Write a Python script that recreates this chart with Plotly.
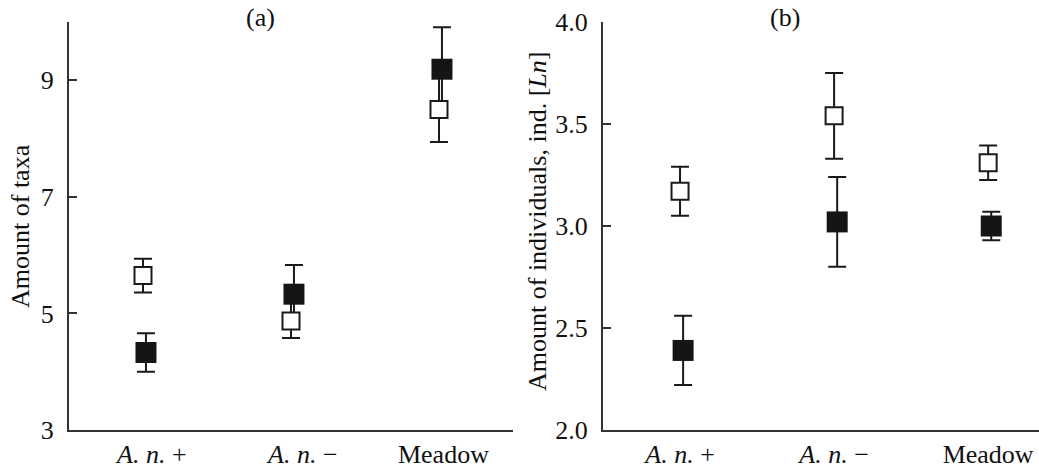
import plotly.graph_objects as go

# ---- data ----
categories = ["A. n. +", "A. n. −", "Meadow"]
tick_labels = ["<i>A. n.</i> +", "<i>A. n.</i> −", "Meadow"]

taxa_open = [5.65, 4.87, 8.50]
taxa_open_err = [0.29, 0.29, 0.56]
taxa_filled = [4.33, 5.33, 9.19]
taxa_filled_err = [0.33, 0.50, 0.72]

ind_open = [3.17, 3.54, 3.31]
ind_open_err = [0.12, 0.21, 0.085]
ind_filled = [2.39, 3.02, 3.00]
ind_filled_err = [0.17, 0.22, 0.07]

taxa_ticks = [3, 5, 7, 9]
ind_ticks = [2.0, 2.5, 3.0, 3.5, 4.0]

# ---- figure ----
W, H = 1039, 469
FONT = "Liberation Serif, Times New Roman, serif"
FS = 26
fig = go.Figure()

idx = list(range(len(categories)))
off = 0.02
x_open = [i for i in idx]
x_filled = [i + off for i in idx]
ERR_COLOR = "#1a1a1a"


def add_panel(xa, ya, yo, yo_err, yf, yf_err):
    # where the two markers' error bars run into each other, the facing
    # halves are drawn without caps (their ends are hidden under the markers)
    overlap = [abs(a - b) < (ea + eb) for a, b, ea, eb in zip(yo, yf, yo_err, yf_err)]
    series = ((x_open, yo, yo_err, yf), (x_filled, yf, yf_err, yo))
    for xs, ys, es, other in series:
        up_cap, dn_cap, up_free, dn_free = [], [], [], []
        for y, e, o, ov in zip(ys, es, other, overlap):
            faces_up = o > y
            if ov and faces_up:
                up_cap.append(0); up_free.append(e)
                dn_cap.append(e); dn_free.append(0)
            elif ov:
                up_cap.append(e); up_free.append(0)
                dn_cap.append(0); dn_free.append(e)
            else:
                up_cap.append(e); up_free.append(0)
                dn_cap.append(e); dn_free.append(0)
        for up, dn, w in ((up_cap, dn_cap, 9), (up_free, dn_free, 0)):
            fig.add_trace(go.Scatter(
                x=xs, y=ys, mode="markers", xaxis=xa, yaxis=ya,
                marker=dict(size=1, color="rgba(0,0,0,0)"),
                error_y=dict(type="data", symmetric=False, array=up,
                             arrayminus=dn, visible=True,
                             color=ERR_COLOR, thickness=2, width=w),
                showlegend=False, hoverinfo="skip"))
    fig.add_trace(go.Scatter(
        x=x_open, y=yo, mode="markers", xaxis=xa, yaxis=ya,
        marker=dict(symbol="square", size=17, color="white",
                    line=dict(color=ERR_COLOR, width=2)),
        showlegend=False))
    fig.add_trace(go.Scatter(
        x=x_filled, y=yf, mode="markers", xaxis=xa, yaxis=ya,
        marker=dict(symbol="square", size=21, color="#151515",
                    line=dict(width=0)),
        showlegend=False))


add_panel("x", "y", taxa_open, taxa_open_err, taxa_filled, taxa_filled_err)
add_panel("x2", "y2", ind_open, ind_open_err, ind_filled, ind_filled_err)

axis_common = dict(showline=True, linecolor="#333", linewidth=2,
                   showgrid=False, zeroline=False, automargin=False,
                   tickfont=dict(family=FONT, size=FS, color="#111"))

left_shift = [0.06, 0.08, 0.03]

fig.update_layout(
    width=W, height=H, autosize=False,
    margin=dict(l=0, r=0, t=0, b=0, autoexpand=False),
    paper_bgcolor="white", plot_bgcolor="white",
    font=dict(family=FONT, size=FS, color="#111"),
    xaxis=dict(domain=[69 / W, 513 / W], range=[-0.5, 2.5],
               tickvals=[i + s for i, s in zip(idx, left_shift)],
               ticktext=tick_labels, ticks="", anchor="y", **axis_common),
    yaxis=dict(domain=[(H - 430) / H, (H - 22) / H], range=[3, 10],
               tickvals=taxa_ticks, ticktext=[str(t) for t in taxa_ticks],
               ticks="inside", ticklen=8, tickwidth=2, tickcolor="#333",
               ticklabelstandoff=8, anchor="x", **axis_common),
    xaxis2=dict(domain=[603 / W, 1.0], range=[-0.5, 2.33],
                tickvals=idx, ticktext=tick_labels, ticks="",
                anchor="y2", **axis_common),
    yaxis2=dict(domain=[(H - 430) / H, (H - 22) / H], range=[2, 4],
                tickvals=ind_ticks, ticktext=[f"{t:.1f}" for t in ind_ticks],
                ticks="inside", ticklen=8, tickwidth=2, tickcolor="#333",
                ticklabelstandoff=8, anchor="x2", **axis_common),
)

annos = [
    dict(text="(a)", x=260 / W, y=(H - 17) / H, textangle=0),
    dict(text="(b)", x=785 / W, y=(H - 17) / H, textangle=0),
    dict(text="Amount of taxa", x=20 / W, y=(H - 226) / H, textangle=-90),
    dict(text="Amount of individuals, ind. [<i>Ln</i>]", x=537 / W,
         y=(H - 222) / H, textangle=-90),
]
for a in annos:
    fig.add_annotation(xref="paper", yref="paper", showarrow=False,
                       xanchor="center", yanchor="middle",
                       font=dict(family=FONT, size=FS, color="#111"), **a)

fig.write_html("out.html")
